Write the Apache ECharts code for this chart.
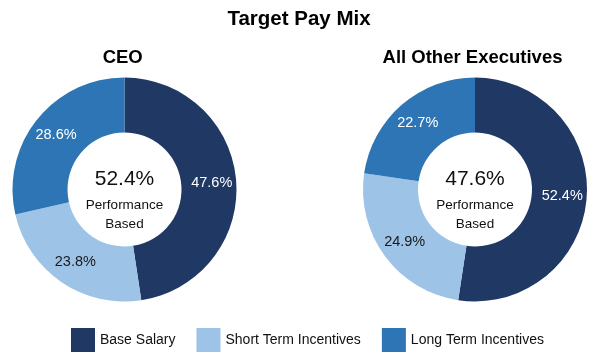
<!DOCTYPE html>
<html>
<head>
<meta charset="utf-8">
<script src="https://cdn.jsdelivr.net/npm/echarts@6/dist/echarts.min.js"></script>
<style>
html,body{margin:0;padding:0;background:#fff;}
#chart{width:599px;height:362px;}
</style>
</head>
<body>
<div id="chart"></div>
<script>
const chartTitle = 'Target Pay Mix';
const categories = ['Base Salary', 'Short Term Incentives', 'Long Term Incentives'];
const groupTitles = ['CEO', 'All Other Executives'];
const ceoValues = [47.6, 23.8, 28.6];
const otherValues = [52.4, 24.9, 22.7];
const centerCaption = ['Performance', 'Based'];

const colors = ['#203864', '#9DC3E6', '#2E75B6'];
const labelColors = ['#ffffff', '#1a1a1a', '#ffffff'];
const sans = "'Liberation Sans', Arial, sans-serif";

const centers = [[124.5, 189.5], [475, 189.5]];
const titleX = [122.7, 472.5];

function perf(vals) {
  return (vals[1] + vals[2]).toFixed(1) + '%';
}

function pieSeries(vals, center) {
  return {
    type: 'pie',
    center: center,
    radius: [57, 112],
    startAngle: 90,
    clockwise: true,
    silent: true,
    animation: false,
    avoidLabelOverlap: false,
    label: {
      show: true,
      position: 'inside',
      fontFamily: sans,
      fontSize: 14.5,
      formatter: function (p) { return p.value.toFixed(1) + '%'; }
    },
    labelLine: { show: false },
    data: categories.map(function (c, i) {
      return {
        name: c,
        value: vals[i],
        itemStyle: { color: colors[i] },
        label: { color: labelColors[i] }
      };
    })
  };
}

const allVals = [ceoValues, otherValues];
const graphics = [];
graphics.push({
  type: 'text', x: 299, y: 19,
  style: { text: chartTitle, fontFamily: sans, fontWeight: 'bold', fontSize: 20.5, fill: '#000', textAlign: 'center', textVerticalAlign: 'middle' }
});
groupTitles.forEach(function (t, i) {
  graphics.push({
    type: 'text', x: titleX[i], y: 57.5,
    style: { text: t, fontFamily: sans, fontWeight: 'bold', fontSize: 18.5, fill: '#000', textAlign: 'center', textVerticalAlign: 'middle' }
  });
  graphics.push({
    type: 'text', x: centers[i][0], y: 179,
    style: { text: perf(allVals[i]), fontFamily: sans, fontSize: 21, fill: '#111', textAlign: 'center', textVerticalAlign: 'middle' }
  });
  graphics.push({
    type: 'text', x: centers[i][0], y: 205,
    style: { text: centerCaption[0], fontFamily: sans, fontSize: 13.5, fill: '#111', textAlign: 'center', textVerticalAlign: 'middle' }
  });
  graphics.push({
    type: 'text', x: centers[i][0], y: 224,
    style: { text: centerCaption[1], fontFamily: sans, fontSize: 13.5, fill: '#111', textAlign: 'center', textVerticalAlign: 'middle' }
  });
});

const chart = echarts.init(document.getElementById('chart'), null, { renderer: 'canvas' });
chart.setOption({
  backgroundColor: '#ffffff',
  animation: false,
  legend: {
    data: categories,
    left: 71,
    top: 328,
    padding: 0,
    itemWidth: 24,
    itemHeight: 24,
    itemGap: 21,
    icon: 'rect',
    selectedMode: false,
    textStyle: { fontFamily: sans, fontSize: 14, color: '#111' }
  },
  graphic: graphics,
  series: [pieSeries(ceoValues, centers[0]), pieSeries(otherValues, centers[1])]
});
</script>
</body>
</html>
